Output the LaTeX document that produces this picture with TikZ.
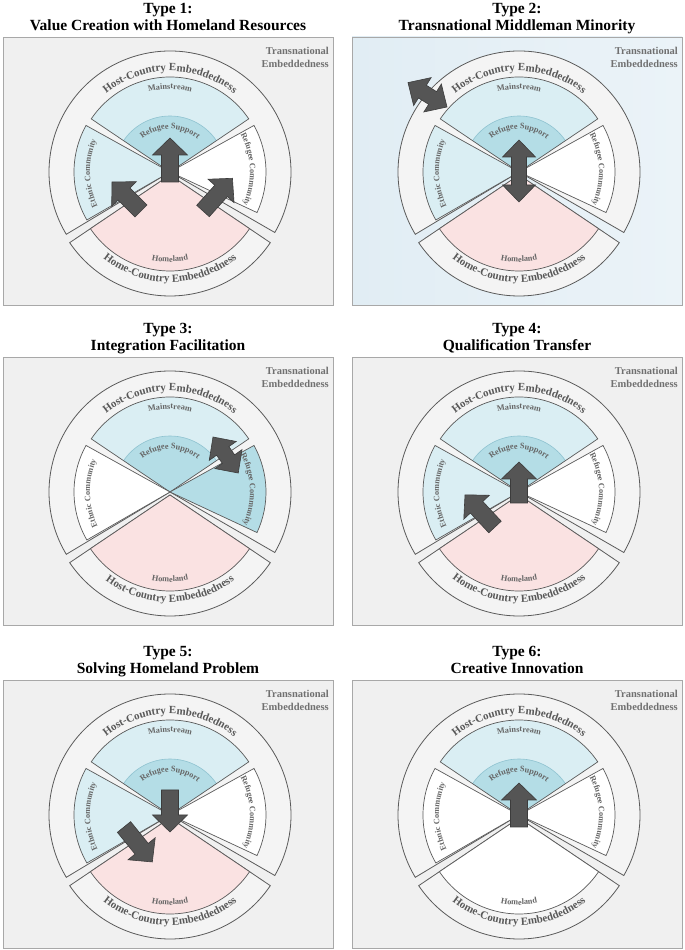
\documentclass[tikz,border=0pt]{standalone}
\usepackage{fontspec}
\setmainfont{Liberation Serif}
\usetikzlibrary{decorations.text}
\definecolor{bggray}{HTML}{F0F0F0}
\definecolor{boxline}{HTML}{A8A8A8}
\definecolor{ringfill}{HTML}{F4F4F4}
\definecolor{lineg}{HTML}{5A5A5A}
\definecolor{mainblue}{HTML}{DAEEF3}
\definecolor{supblue}{HTML}{B4DDE6}
\definecolor{supline}{HTML}{8FC3D0}
\definecolor{homepink}{HTML}{FAE2E2}
\definecolor{ringtxt}{HTML}{595959}
\definecolor{intxt}{HTML}{666666}
\definecolor{transtxt}{HTML}{707070}
\definecolor{arrfill}{HTML}{555555}
\definecolor{arredge}{HTML}{3C3C3C}
\definecolor{bgblueA}{HTML}{E1EDF4}
\definecolor{bgblueB}{HTML}{EBF3F8}
\tikzset{
 boxsty/.style={draw=boxline, line width=0.8pt},
 ringsty/.style={draw=lineg, fill=ringfill, line width=0.8pt},
 secsty/.style={draw=lineg, line width=0.7pt},
 arrsty/.style={fill=arrfill, draw=arredge, line width=0.6pt},
 titlesty/.style={font=\fontsize{15.5}{17}\selectfont\bfseries, anchor=base, inner sep=0pt},
 transsty/.style={font=\fontsize{10.5}{13}\selectfont\bfseries, text=transtxt, align=right, anchor=north east, inner sep=0pt},
}
\newcommand{\ringfont}{\fontsize{11}{11}\selectfont\bfseries\color{ringtxt}}
\newcommand{\infont}{\fontsize{8.3}{9}\selectfont\bfseries\color{intxt}}
\newcommand{\arctext}[5]{\path[decorate, decoration={text along path, text={|#1|#2}, text align=center}] (#3:#5) arc[start angle=#3, end angle=#4, radius=#5];}
\newcommand{\blkarrow}[4]{%
 \begin{scope}[shift={(#1,#2)},rotate=#3]
  \draw[arrsty] (0,-8.5) -- (#4-17,-8.5) -- (#4-17,-17.5) -- (#4,0) -- (#4-17,17.5) -- (#4-17,8.5) -- (0,8.5) -- cycle;
 \end{scope}}
\newcommand{\dblarrow}[4]{%
 \begin{scope}[shift={(#1,#2)},rotate=#3]
  \draw[arrsty] (0,0) -- (17,16.5) -- (17,7.5) -- (#4-17,7.5) -- (#4-17,16.5) -- (#4,0) -- (#4-17,-16.5) -- (#4-17,-7.5) -- (17,-7.5) -- (17,-16.5) -- cycle;
 \end{scope}}
\newcommand{\drawpanel}[8]{%
 \path[boxsty,#2] (-167,-133) rectangle (163,135);
 \node[titlesty] (#1t1) at (-2,158) {#3};
 \node[titlesty] (#1t2) at (-2,141) {#4};
 \node[transsty] (#1tr) at (159,125) {Transnational\\Embeddedness};
 \draw[ringsty] (0,0) -- (-30:121) arc[start angle=-30, end angle=211, radius=121] -- cycle;
 \begin{scope}[yshift=-3pt]
  \draw[ringsty] (0,0) -- (214:121) arc[start angle=214, end angle=326, radius=121] -- cycle;
  \draw[secsty, fill=#7] (0,0) -- (214:96) arc[start angle=214, end angle=326, radius=96] -- cycle;
  \arctext{\ringfont}{#8}{195}{345}{107}
  \arctext{\infont}{Homeland}{225}{315}{87}
 \end{scope}
 \fill[mainblue] (0,0) -- (34:95) arc[start angle=34, end angle=146, radius=95] -- cycle;
 \fill[supblue] (0,0) -- (34:56) arc[start angle=34, end angle=146, radius=56] -- cycle;
 \draw[supline, line width=0.6pt] (34:56) arc[start angle=34, end angle=146, radius=56];
 \draw[secsty] (0,0) -- (34:95) arc[start angle=34, end angle=146, radius=95] -- cycle;
 \draw[secsty, fill=#5] (0,0) -- (151:96) arc[start angle=151, end angle=210, radius=96] -- cycle;
 \draw[secsty, fill=#6] (0,0) -- (-25:96) arc[start angle=-25, end angle=29, radius=96] -- cycle;
 \arctext{\ringfont}{Host-Country Embeddedness}{170}{10}{101}
 \arctext{\infont}{Mainstream}{155}{25}{83}
 \arctext{\infont}{Refugee Support}{165}{15}{43}
 \arctext{\infont}{Ethnic Community}{241}{121}{80}
 \arctext{\infont}{Refugee Community}{62}{-58}{80}
}
\begin{document}
\begin{tikzpicture}[x=1pt,y=1pt]
\useasboundingbox (0,0) rectangle (685,950);
\fill[white] (0,0) rectangle (685,950);
% Type 1
\begin{scope}[shift={(170,778)}]
 \drawpanel{pa}{fill=bggray}{Type 1:}{Value Creation with Homeland Resources}{mainblue}{white}{homepink}{Home-Country Embeddedness}
 \blkarrow{0}{-10}{90}{44}
 \blkarrow{-29}{-39}{135}{41}
 \blkarrow{33}{-39}{48}{44}
\end{scope}
% Type 2
\begin{scope}[shift={(519,778)}]
 \drawpanel{pb}{left color=bgblueA, right color=bgblueB}{Type 2:}{Transnational Middleman Minority}{mainblue}{white}{homepink}{Home-Country Embeddedness}
 \dblarrow{0}{-30}{90}{62}
 \dblarrow{-72}{65}{148}{46}
\end{scope}
% Type 3
\begin{scope}[shift={(170,458)}]
 \drawpanel{pc}{fill=bggray}{Type 3:}{Integration Facilitation}{white}{supblue}{homepink}{Host-Country Embeddedness}
 \dblarrow{43}{55}{-55}{44}
\end{scope}
% Type 4
\begin{scope}[shift={(519,458)}]
 \drawpanel{pd}{fill=bggray}{Type 4:}{Qualification Transfer}{mainblue}{white}{homepink}{Home-Country Embeddedness}
 \blkarrow{0}{-11}{90}{41}
 \blkarrow{-24}{-35}{133}{44}
\end{scope}
% Type 5
\begin{scope}[shift={(170,135)}]
 \drawpanel{pe}{fill=bggray}{Type 5:}{Solving Homeland Problem}{mainblue}{white}{homepink}{Home-Country Embeddedness}
 \blkarrow{0}{25}{-90}{42}
 \blkarrow{-46}{-12}{-51}{45}
\end{scope}
% Type 6
\begin{scope}[shift={(519,135)}]
 \drawpanel{pf}{fill=bggray}{Type 6:}{Creative Innovation}{white}{white}{white}{Home-Country Embeddedness}
 \blkarrow{0}{-12}{90}{44}
\end{scope}
\end{tikzpicture}
\end{document}
